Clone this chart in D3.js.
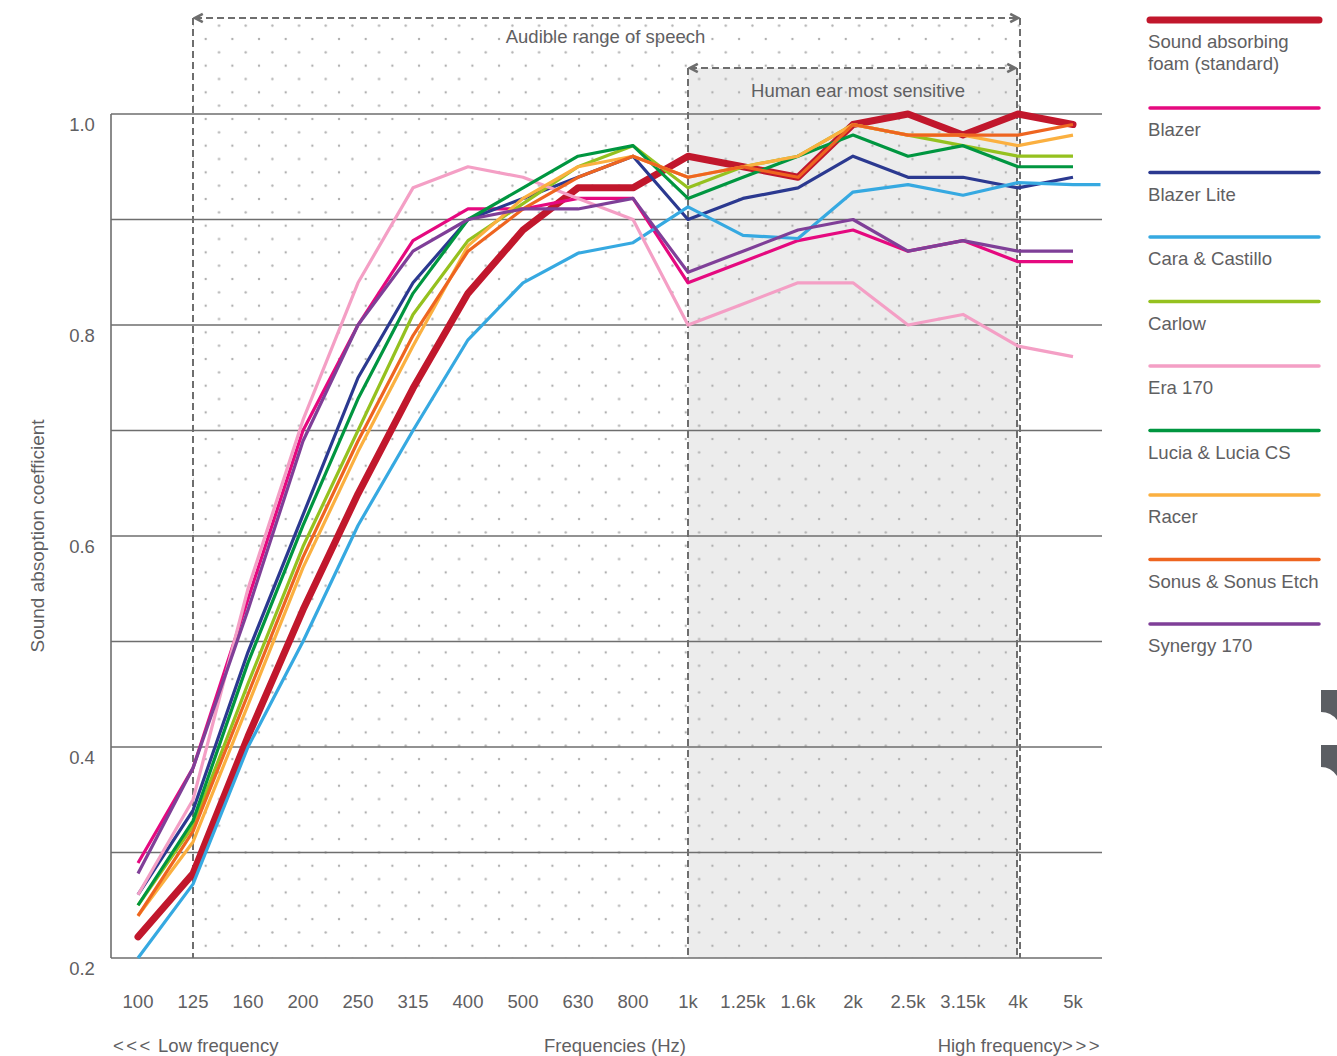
<!DOCTYPE html>
<html>
<head>
<meta charset="utf-8">
<script src="https://cdn.jsdelivr.net/npm/d3@7"></script>
<style>
  body { margin: 0; background: #fff; }
  svg { display: block; font-family: "Liberation Sans", Arial, sans-serif; }
</style>
</head>
<body>
<svg width="1337" height="1056"></svg>
<script>
// frequency bands (x categories)
const freqs = ['100', '125', '160', '200', '250', '315', '400', '500', '630', '800',
  '1k', '1.25k', '1.6k', '2k', '2.5k', '3.15k', '4k', '5k'];

// absorption coefficients
const foam = [0.22, 0.28, 0.41, 0.53, 0.64, 0.74, 0.83, 0.89, 0.93, 0.93, 0.96, 0.95, 0.94, 0.99, 1.0, 0.98, 1.0, 0.99];
const blazer = [0.29, 0.38, 0.54, 0.70, 0.80, 0.88, 0.91, 0.91, 0.92, 0.92, 0.84, 0.86, 0.88, 0.89, 0.87, 0.88, 0.86, 0.86];
const blazerLite = [0.26, 0.34, 0.49, 0.62, 0.75, 0.84, 0.90, 0.92, 0.94, 0.96, 0.90, 0.92, 0.93, 0.96, 0.94, 0.94, 0.93, 0.94];
const caraCastillo = [0.20, 0.27, 0.40, 0.50, 0.61, 0.70, 0.786, 0.84, 0.868, 0.878, 0.912, 0.885, 0.882, 0.926, 0.933, 0.923, 0.935, 0.933];
const carlow = [0.25, 0.325, 0.46, 0.59, 0.70, 0.81, 0.88, 0.915, 0.95, 0.97, 0.93, 0.95, 0.96, 0.99, 0.98, 0.97, 0.96, 0.96];
const era170 = [0.26, 0.35, 0.55, 0.71, 0.84, 0.93, 0.95, 0.94, 0.92, 0.90, 0.80, 0.82, 0.84, 0.84, 0.80, 0.81, 0.78, 0.77];
const lucia = [0.25, 0.33, 0.48, 0.61, 0.73, 0.83, 0.90, 0.93, 0.96, 0.97, 0.92, 0.94, 0.96, 0.98, 0.96, 0.97, 0.95, 0.95];
const racer = [0.24, 0.31, 0.44, 0.57, 0.68, 0.78, 0.875, 0.92, 0.95, 0.96, 0.94, 0.95, 0.96, 0.99, 0.98, 0.98, 0.97, 0.98];
const sonus = [0.24, 0.32, 0.45, 0.58, 0.69, 0.79, 0.87, 0.91, 0.94, 0.96, 0.94, 0.95, 0.94, 0.99, 0.98, 0.98, 0.98, 0.99];
const synergy = [0.28, 0.38, 0.53, 0.69, 0.80, 0.87, 0.90, 0.91, 0.91, 0.92, 0.85, 0.87, 0.89, 0.90, 0.87, 0.88, 0.87, 0.87];

const seriesNames = ['Sound absorbing foam (standard)', 'Blazer', 'Blazer Lite', 'Cara & Castillo', 'Carlow',
  'Era 170', 'Lucia & Lucia CS', 'Racer', 'Sonus & Sonus Etch', 'Synergy 170'];
const seriesValues = [foam, blazer, blazerLite, caraCastillo, carlow, era170, lucia, racer, sonus, synergy];
const seriesColors = ['#c1172c', '#e5097f', '#2b3990', '#36a9e1', '#95c11f',
  '#f49fc5', '#009640', '#fbb040', '#ee6520', '#7f3f98'];

const yTicks = d3.range(0.2, 1.001, 0.1);
const yLabels = [0.2, 0.4, 0.6, 0.8, 1.0];

const svg = d3.select('svg');
const defs = svg.append('defs');

const x = d3.scalePoint().domain(freqs).range([138, 1073]);
const y = d3.scaleLinear().domain([0.2, 1.0]).range([958, 114]);

const plotLeft = 111, plotRight = 1102;
const grey = '#6e6e6e';
const textGrey = '#5f6062';
const fs = 18.5;

// audible / sensitive ranges (frequency bands)
const audible = ['125', '4k'];
const sensitive = ['1k', '4k'];
const audibleTop = 18, sensitiveTop = 68;

// dot pattern for the audible range
let dots = defs.append('pattern')
  .attr('id', 'dots')
  .attr('patternUnits', 'userSpaceOnUse')
  .attr('x', 205.7).attr('y', 119)
  .attr('width', 26.67).attr('height', 26.67);
[[0, 0], [26.67, 0], [0, 26.67], [26.67, 26.67], [13.33, 13.33]].forEach((p) => {
  dots.append('circle').attr('cx', p[0]).attr('cy', p[1]).attr('r', 1.2).attr('fill', '#b0b0b0');
});

defs.append('marker')
  .attr('id', 'arrow')
  .attr('viewBox', '0 0 10 10')
  .attr('refX', 8).attr('refY', 5)
  .attr('markerWidth', 6).attr('markerHeight', 6)
  .attr('markerUnits', 'strokeWidth')
  .attr('orient', 'auto-start-reverse')
  .append('path')
  .attr('d', 'M1.5,1.5 L8,5 L1.5,8.5')
  .attr('fill', 'none')
  .attr('stroke', grey)
  .attr('stroke-width', 2.2)
  .attr('stroke-linejoin', 'miter');

// sensitive range shading
svg.append('rect')
  .attr('x', x(sensitive[0]))
  .attr('y', sensitiveTop)
  .attr('width', x(sensitive[1]) - x(sensitive[0]))
  .attr('height', y(0.2) - sensitiveTop)
  .attr('fill', '#ececec');

svg.append('rect')
  .attr('x', x(audible[0]))
  .attr('y', audibleTop)
  .attr('width', x(audible[1]) + 2 - x(audible[0]))
  .attr('height', y(0.2) - audibleTop)
  .attr('fill', 'url(#dots)');

// gridlines
svg.append('g').selectAll('line')
  .data(yTicks)
  .enter().append('line')
  .attr('x1', plotLeft).attr('x2', plotRight)
  .attr('y1', (d) => y(d)).attr('y2', (d) => y(d))
  .attr('stroke', grey)
  .attr('stroke-width', 1.6);

svg.append('line')
  .attr('x1', plotLeft).attr('x2', plotLeft)
  .attr('y1', y(1.0)).attr('y2', y(0.2))
  .attr('stroke', grey)
  .attr('stroke-width', 1.6);

// dashed range boxes
function rangeBox(r, top, shift) {
  let g = svg.append('g')
    .attr('fill', 'none')
    .attr('stroke', grey)
    .attr('stroke-width', 2)
    .attr('stroke-dasharray', '7,4');
  let x1 = x(r[0]), x2 = x(r[1]) + shift;
  g.append('line').attr('x1', x1).attr('x2', x1).attr('y1', top).attr('y2', y(0.2));
  g.append('line').attr('x1', x2).attr('x2', x2).attr('y1', top).attr('y2', y(0.2));
  g.append('line')
    .attr('x1', x1 + 2).attr('x2', x2 - 2)
    .attr('y1', top).attr('y2', top)
    .attr('marker-start', 'url(#arrow)')
    .attr('marker-end', 'url(#arrow)');
}
rangeBox(audible, audibleTop, 2);
rangeBox(sensitive, sensitiveTop, -1);

svg.append('text')
  .attr('x', (x(audible[0]) + x(audible[1])) / 2)
  .attr('y', 43)
  .attr('text-anchor', 'middle')
  .attr('font-size', fs)
  .attr('fill', textGrey)
  .text('Audible range of speech');

svg.append('text')
  .attr('x', (x(sensitive[0]) + x(sensitive[1])) / 2 + 5)
  .attr('y', 97)
  .attr('text-anchor', 'middle')
  .attr('font-size', fs)
  .attr('fill', textGrey)
  .text('Human ear most sensitive');

// series lines, foam first (it sits under the others)
let lines = svg.append('g');
seriesValues.forEach((vals, k) => {
  let pts = vals.map((v, i) => [x(freqs[i]), y(v)]);
  // Cara & Castillo runs on past the last band
  if (k === 3) pts.push([x(freqs[freqs.length - 1]) + x.step() / 2, y(vals[vals.length - 1])]);
  lines.append('path')
    .attr('d', d3.line()(pts))
    .attr('fill', 'none')
    .attr('stroke', seriesColors[k])
    .attr('stroke-width', k === 0 ? 7 : 3.2)
    .attr('stroke-linejoin', 'round')
    .attr('stroke-linecap', k === 0 ? 'round' : 'butt');
});

// y labels
svg.append('g').selectAll('text')
  .data(yLabels)
  .enter().append('text')
  .attr('x', 82)
  .attr('y', (d) => y(d) + 17)
  .attr('text-anchor', 'middle')
  .attr('font-size', fs)
  .attr('fill', textGrey)
  .text((d) => d.toFixed(1));

// x labels
svg.append('g').selectAll('text')
  .data(freqs)
  .enter().append('text')
  .attr('x', (d) => x(d))
  .attr('y', 1007.5)
  .attr('text-anchor', 'middle')
  .attr('font-size', fs)
  .attr('fill', textGrey)
  .text((d) => d);

let low = svg.append('text')
  .attr('x', 113).attr('y', 1051.5)
  .attr('font-size', fs).attr('fill', textGrey);
low.append('tspan').attr('letter-spacing', 2.5).text('<<<');
low.append('tspan').text(' Low frequency');

svg.append('text')
  .attr('x', 615).attr('y', 1051.5)
  .attr('text-anchor', 'middle')
  .attr('font-size', fs).attr('fill', textGrey)
  .text('Frequencies (Hz)');

let high = svg.append('text')
  .attr('x', plotRight).attr('y', 1051.5)
  .attr('text-anchor', 'end')
  .attr('font-size', fs).attr('fill', textGrey);
high.append('tspan').text('High frequency');
high.append('tspan').attr('letter-spacing', 2.5).text('>>>');

svg.append('text')
  .attr('transform', 'translate(44,536) rotate(-90)')
  .attr('text-anchor', 'middle')
  .attr('font-size', 19).attr('fill', textGrey)
  .text('Sound absoption coefficient');

// legend
let legend = svg.append('g');
seriesNames.forEach((name, k) => {
  let ly = k === 0 ? 20 : 108 + (k - 1) * 64.5;
  legend.append('line')
    .attr('x1', 1150).attr('x2', 1319)
    .attr('y1', ly).attr('y2', ly)
    .attr('stroke', seriesColors[k])
    .attr('stroke-width', k === 0 ? 7 : 3.5)
    .attr('stroke-linecap', 'round');
  let words = k === 0 ? ['Sound absorbing', 'foam (standard)'] : [name];
  words.forEach((w, j) => {
    legend.append('text')
      .attr('x', 1148)
      .attr('y', ly + 28 + j * 22)
      .attr('font-size', 18.6)
      .attr('fill', textGrey)
      .text(w);
  });
});

// cut-off page mark at the right edge
svg.append('path')
  .attr('d', 'M1321,690 H1337 V720 Q1331,712 1321,712 Z M1321,745 H1337 V776 Q1331,767 1321,767 Z')
  .attr('fill', '#5b5e63');
</script>
</body>
</html>
